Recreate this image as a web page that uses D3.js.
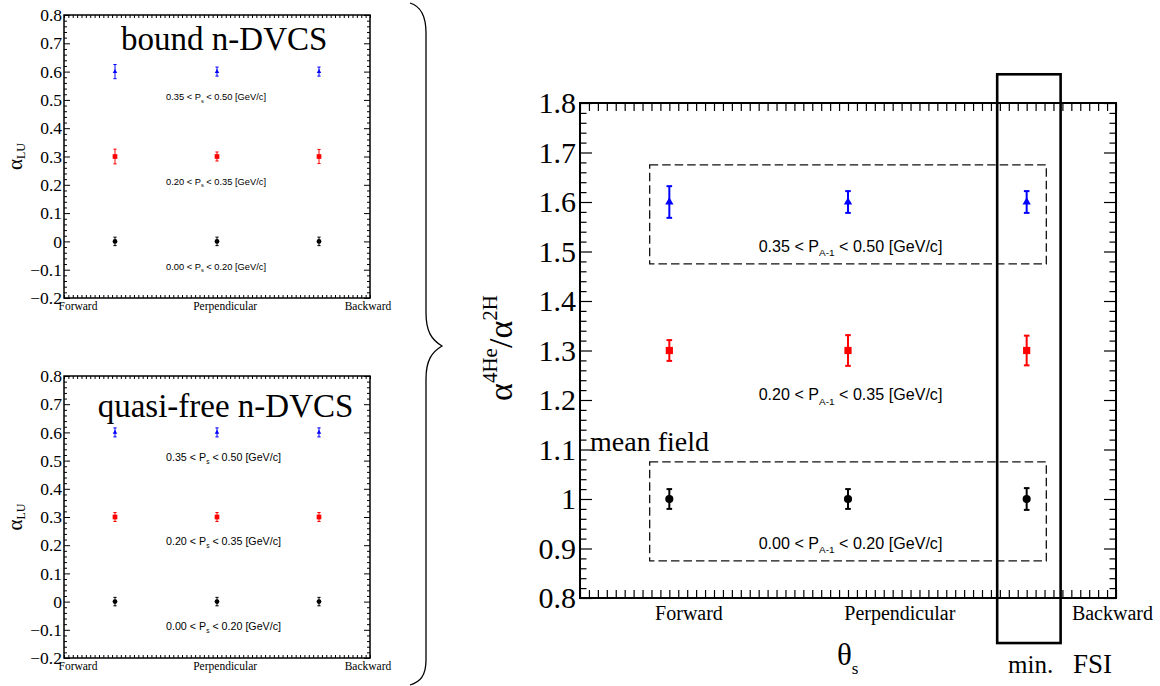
<!DOCTYPE html>
<html>
<head>
<meta charset="utf-8">
<script src="https://cdn.jsdelivr.net/npm/d3@7"></script>
<style>
  html, body { margin: 0; padding: 0; background: #fff; }
  svg { display: block; }
</style>
</head>
<body>
<svg id="chart" width="1160" height="686"></svg>
<script>
// ---------------- DATA ----------------
const categories = ["Forward", "Perpendicular", "Backward"];
const rangeLow = ["0.35", "0.20", "0.00"];
const rangeHigh = ["0.50", "0.35", "0.20"];
const seriesColors = ["#0000ff", "#ff0000", "#000000"];
const seriesShapes = ["triangle", "square", "circle"];

// bound n-DVCS (alpha_LU)
const boundValues = [[0.6, 0.6, 0.6], [0.3, 0.3, 0.3], [0.0, 0.0, 0.0]];
const boundErrors = [[0.025, 0.016, 0.016], [0.026, 0.016, 0.025], [0.015, 0.015, 0.015]];
// quasi-free n-DVCS (alpha_LU)
const freeValues = [[0.6, 0.6, 0.6], [0.3, 0.3, 0.3], [0.0, 0.0, 0.0]];
const freeErrors = [[0.016, 0.016, 0.016], [0.016, 0.016, 0.016], [0.015, 0.015, 0.015]];
// ratio 4He / 2H
const ratioValues = [[1.6, 1.6, 1.6], [1.3, 1.3, 1.3], [1.0, 1.0, 1.0]];
const ratioErrors = [[0.032, 0.022, 0.022], [0.021, 0.031, 0.030], [0.020, 0.020, 0.022]];

const yTicksSmall = [-0.2, -0.1, 0, 0.1, 0.2, 0.3, 0.4, 0.5, 0.6, 0.7, 0.8];
const yTicksMain = [0.8, 0.9, 1.0, 1.1, 1.2, 1.3, 1.4, 1.5, 1.6, 1.7, 1.8];
const labelPosSmall = [0.137, 1.58, 2.98];
const labelPosMain = [0.61, 1.79, 2.98];
const rangeLabelYSmall = [0.5, 0.2, -0.1];
const rangeLabelYMain = [1.5, 1.2, 0.9];
// dashed boxes [x0, x1, y0, y1] in data units
const dashedBoxes = [[0.39, 2.61, 1.475, 1.675], [0.39, 2.61, 0.875, 1.075]];
const fsiBox = [2.335, 2.69, 0.709, 1.858];

// ---------------- SETUP ----------------
const SERIF = "'Liberation Serif','Times New Roman',serif";
const SANS = "'Liberation Sans',Arial,sans-serif";
const svg = d3.select("#chart");
svg.append("rect").attr("width", 1160).attr("height", 686).attr("fill", "#fff");

function drawFrame(g, x, y, o) {
  const [x0, x1] = x.range();
  const [y1, y0] = y.range();
  const yd = y.domain();
  const nMinor = Math.round((yd[1] - yd[0]) / 0.02);
  const minorY = d3.range(nMinor + 1).map(i => yd[0] + i * 0.02).filter((v, i) => i % 5 !== 0);
  const xTicks = d3.range(o.nx + 1).map(i => 3 * i / o.nx);

  const strip = sel => { sel.select(".domain").remove(); };

  const left = g.append("g").attr("transform", `translate(${x0},0)`)
    .call(d3.axisLeft(y).tickValues(o.yTicks).tickSize(-o.major).tickPadding(o.pad).tickFormat(d3.format("~g")))
    .call(strip);
  left.attr("font-family", SERIF).attr("font-size", o.tickFont);
  left.selectAll("line").attr("stroke", "#000").attr("stroke-width", o.tw);
  left.selectAll("text").attr("fill", "#000");
  g.append("g").attr("transform", `translate(${x0},0)`)
    .call(d3.axisLeft(y).tickValues(minorY).tickSize(-o.minor).tickFormat(""))
    .call(strip).selectAll("line").attr("stroke", "#000").attr("stroke-width", o.tw);
  g.append("g").attr("transform", `translate(${x1},0)`)
    .call(d3.axisRight(y).tickValues(o.yTicks).tickSize(-o.major).tickFormat(""))
    .call(strip).selectAll("line").attr("stroke", "#000").attr("stroke-width", o.tw);
  g.append("g").attr("transform", `translate(${x1},0)`)
    .call(d3.axisRight(y).tickValues(minorY).tickSize(-o.minor).tickFormat(""))
    .call(strip).selectAll("line").attr("stroke", "#000").attr("stroke-width", o.tw);
  g.append("g").attr("transform", `translate(0,${y1})`)
    .call(d3.axisBottom(x).tickValues(xTicks).tickSize(-o.xt).tickFormat(""))
    .call(strip).selectAll("line").attr("stroke", "#000").attr("stroke-width", o.tw);
  g.append("g").attr("transform", `translate(0,${y0})`)
    .call(d3.axisTop(x).tickValues(xTicks).tickSize(-o.xt).tickFormat(""))
    .call(strip).selectAll("line").attr("stroke", "#000").attr("stroke-width", o.tw);
  g.append("rect").attr("x", x0).attr("y", y0).attr("width", x1 - x0).attr("height", y1 - y0)
    .attr("fill", "none").attr("stroke", "#000").attr("stroke-width", o.fw);
  g.selectAll("text.cat").data(categories).join("text").attr("class", "cat")
    .attr("x", (d, i) => x(o.labelPos[i])).attr("y", y1 + o.catDy)
    .attr("text-anchor", "middle").attr("font-family", SERIF).attr("font-size", o.catFont)
    .attr("fill", "#000").text(d => d);
}

function drawPoints(g, x, y, values, errors, o) {
  values.forEach((vals, s) => {
    const sym = seriesShapes[s] === "triangle" ? d3.symbolTriangle : seriesShapes[s] === "square" ? d3.symbolSquare : d3.symbolCircle;
    const pts = vals.map((v, i) => ({ v, e: errors[s][i], i }));
    const gs = g.append("g").attr("stroke", seriesColors[s]).attr("fill", seriesColors[s]);
    gs.selectAll("line.eb").data(pts).join("line").attr("class", "eb")
      .attr("x1", d => x(d.i + 0.5)).attr("x2", d => x(d.i + 0.5))
      .attr("y1", d => y(d.v - d.e)).attr("y2", d => y(d.v + d.e)).attr("stroke-width", o.lw);
    gs.selectAll("line.capt").data(pts).join("line").attr("class", "capt")
      .attr("x1", d => x(d.i + 0.5) - o.cap).attr("x2", d => x(d.i + 0.5) + o.cap)
      .attr("y1", d => y(d.v + d.e)).attr("y2", d => y(d.v + d.e)).attr("stroke-width", o.lw);
    gs.selectAll("line.capb").data(pts).join("line").attr("class", "capb")
      .attr("x1", d => x(d.i + 0.5) - o.cap).attr("x2", d => x(d.i + 0.5) + o.cap)
      .attr("y1", d => y(d.v - d.e)).attr("y2", d => y(d.v - d.e)).attr("stroke-width", o.lw);
    gs.selectAll("path.m").data(pts).join("path").attr("class", "m")
      .attr("transform", d => `translate(${x(d.i + 0.5)},${y(d.v)})`)
      .attr("d", d3.symbol().type(sym).size(o.sizes[s])).attr("stroke", "none");
  });
}

function rangeLabel(g, x, y, xv, yv, i, sub, fs) {
  const t = g.append("text").attr("x", x(xv)).attr("y", y(yv))
    .attr("font-family", SANS).attr("font-size", fs).attr("fill", "#000");
  t.append("tspan").text(`${rangeLow[i]} < P`);
  t.append("tspan").attr("font-size", fs * 0.62).attr("dy", fs * 0.28).text(sub);
  t.append("tspan").attr("dy", -fs * 0.28).text(` < ${rangeHigh[i]} [GeV/c]`);
}

// ---------------- SMALL PANELS ----------------
function smallPanel(yTop, yBot, title, titleX, titleY, values, errors, labFont) {
  const g = svg.append("g");
  const x = d3.scaleLinear().domain([0, 3]).range([64, 370]);
  const y = d3.scaleLinear().domain([-0.2, 0.8]).range([yBot, yTop]);
  drawFrame(g, x, y, { yTicks: yTicksSmall, major: 6, minor: 3, xt: 3, nx: 70, pad: 2, tickFont: 17.5,
    tw: 1, fw: 1.5, labelPos: labelPosSmall, catDy: 12, catFont: 11.5 });
  drawPoints(g, x, y, values, errors, { lw: 1, cap: 1.6, sizes: [9, 22, 18] });
  rangeLabelYSmall.forEach((yv, i) => rangeLabel(g, x, y, 1.0, yv, i, "s", labFont));
  g.append("text").attr("x", x(titleX)).attr("y", y(titleY)).attr("font-family", SERIF)
    .attr("font-size", 33).attr("fill", "#000").text(title);
  const yt = g.append("text").attr("transform", `translate(22,${(yTop + yBot) / 2}) rotate(-90)`)
    .attr("text-anchor", "middle").attr("font-family", SERIF).attr("fill", "#000");
  yt.append("tspan").attr("font-size", 21).text("α");
  yt.append("tspan").attr("font-size", 12).attr("dy", 3).text("LU");
}
smallPanel(15, 298, "bound n-DVCS", 0.56, 0.676, boundValues, boundErrors, 9.3);
smallPanel(376, 658, "quasi-free n-DVCS", 0.33, 0.654, freeValues, freeErrors, 10.7);

// ---------------- BRACE ----------------
svg.append("path")
  .attr("d", "M410,3 C420,6 426,14 426,33 L426,313 C426,332 432,340 442,346 C432,352 426,360 426,379 L426,660 C426,676 420,682 410,685")
  .attr("fill", "none").attr("stroke", "#000").attr("stroke-width", 1.3);

// ---------------- MAIN PANEL ----------------
const gm = svg.append("g");
const xm = d3.scaleLinear().domain([0, 3]).range([580, 1116]);
const ym = d3.scaleLinear().domain([0.8, 1.8]).range([598, 103]);
drawFrame(gm, xm, ym, { yTicks: yTicksMain, major: 12, minor: 6.5, xt: 8, nx: 60, pad: 4, tickFont: 30,
  tw: 1.2, fw: 2, labelPos: labelPosMain, catDy: 22, catFont: 20 });

dashedBoxes.forEach(b => {
  gm.append("rect").attr("x", xm(b[0])).attr("y", ym(b[3]))
    .attr("width", xm(b[1]) - xm(b[0])).attr("height", ym(b[2]) - ym(b[3]))
    .attr("fill", "none").attr("stroke", "#111").attr("stroke-width", 1.3).attr("stroke-dasharray", "8.5,4");
});

drawPoints(gm, xm, ym, ratioValues, ratioErrors, { lw: 2, cap: 2.8, sizes: [30, 52, 52] });
rangeLabelYMain.forEach((yv, i) => rangeLabel(gm, xm, ym, 1.0, yv, i, "A-1", 16.1));

gm.append("text").attr("x", xm(0.056)).attr("y", ym(1.096)).attr("font-family", SERIF)
  .attr("font-size", 28).attr("fill", "#000").text("mean field");

gm.append("rect").attr("x", xm(fsiBox[0])).attr("y", ym(fsiBox[3]))
  .attr("width", xm(fsiBox[1]) - xm(fsiBox[0])).attr("height", ym(fsiBox[2]) - ym(fsiBox[3]))
  .attr("fill", "none").attr("stroke", "#000").attr("stroke-width", 2.6);

const fsi = gm.append("text").attr("x", 1008).attr("y", 673).attr("font-family", SERIF)
  .attr("font-size", 25).attr("fill", "#000");
fsi.append("tspan").text("min.");
fsi.append("tspan").attr("x", 1073).attr("font-size", 27).text("FSI");

const th = gm.append("text").attr("x", 837).attr("y", 665).attr("font-family", SERIF).attr("fill", "#000");
th.append("tspan").attr("font-size", 31).text("θ");
th.append("tspan").attr("font-size", 17).attr("dy", 9).text("s");

const myt = gm.append("text").attr("transform", `translate(512,348) rotate(-90)`)
  .attr("text-anchor", "middle").attr("font-family", SERIF).attr("fill", "#000");
myt.append("tspan").attr("font-size", 34).text("α");
myt.append("tspan").attr("font-size", 21).attr("dy", -15).text("4He");
myt.append("tspan").attr("font-size", 34).attr("dy", 15).text("/α");
myt.append("tspan").attr("font-size", 21).attr("dy", -15).text("2H");
</script>
</body>
</html>
